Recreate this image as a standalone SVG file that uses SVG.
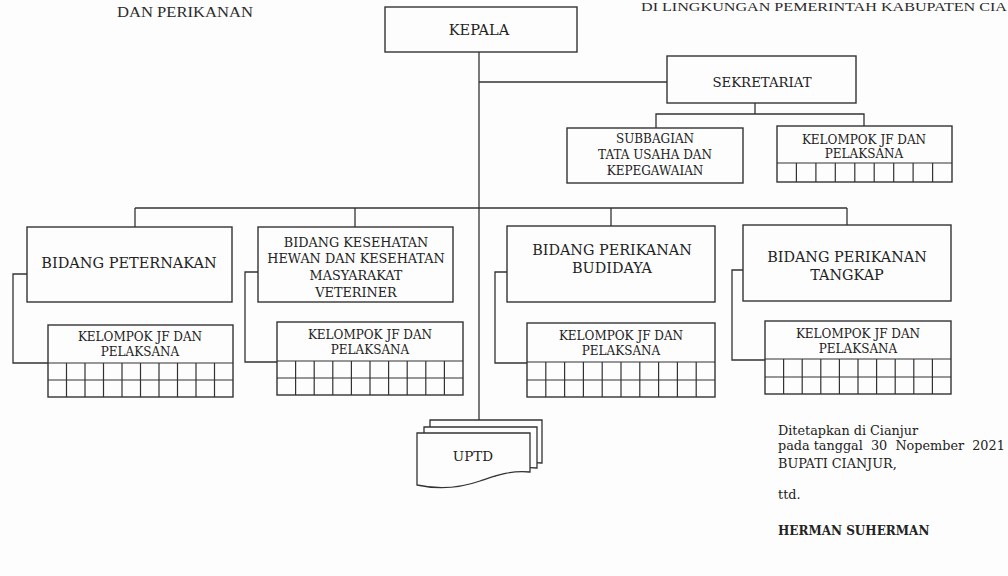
<svg xmlns="http://www.w3.org/2000/svg" width="1008" height="576" viewBox="0 0 1008 576">
<style>
.bx{fill:none;stroke:#333;stroke-width:1.4}
.ln{fill:none;stroke:#333;stroke-width:1.3}
.gr{fill:none;stroke:#333;stroke-width:1.2}
.t{font-family:"DejaVu Serif","Liberation Serif",serif;fill:#222;text-anchor:middle}
.k{font-size:12px}
.s{font-family:"DejaVu Serif","Liberation Serif",serif;fill:#222;font-size:12.8px}
.h{font-family:"Liberation Serif","DejaVu Serif",serif;fill:#2a2a2a}
</style>
<rect width="1008" height="576" fill="#fdfdfd"/>
<text class="h" x="117" y="17" font-size="14" textLength="136" lengthAdjust="spacingAndGlyphs">DAN PERIKANAN</text>
<text class="h" x="641" y="11" font-size="12" textLength="366" lengthAdjust="spacingAndGlyphs">DI LINGKUNGAN PEMERINTAH KABUPATEN CIA</text>

<g id="connectors">
<line class="ln" x1="479" y1="52" x2="479" y2="420"/>
<line class="ln" x1="479" y1="82" x2="667" y2="82"/>
<line class="ln" x1="755" y1="103" x2="755" y2="114"/>
<polyline class="ln" points="656,128 656,114 864,114 864,126"/>
<line class="ln" x1="135" y1="208" x2="847" y2="208"/>
<line class="ln" x1="135" y1="208" x2="135" y2="227"/>
<line class="ln" x1="355" y1="208" x2="355" y2="227"/>
<line class="ln" x1="611" y1="208" x2="611" y2="226"/>
<line class="ln" x1="847" y1="208" x2="847" y2="225"/>
<polyline class="ln" points="27,274 13,274 13,363 48,363"/>
<polyline class="ln" points="258,272 245,272 245,362 277,362"/>
<polyline class="ln" points="507,272 495,272 495,363 527,363"/>
<polyline class="ln" points="743,270 732,270 732,360 765,360"/>
</g>

<g id="kepala">
<rect class="bx" x="385" y="7" width="192" height="45"/>
<text class="t" x="479" y="35" font-size="14.5">KEPALA</text>
</g>

<g id="sekretariat">
<rect class="bx" x="667" y="56" width="189" height="47"/>
<text class="t" x="762" y="87" font-size="13.3">SEKRETARIAT</text>
</g>

<g id="subbagian">
<rect class="bx" x="567" y="128" width="176" height="55"/>
<text class="t" x="655" y="143" font-size="12">SUBBAGIAN</text>
<text class="t" x="655" y="159" font-size="12">TATA USAHA DAN</text>
<text class="t" x="655" y="175" font-size="12">KEPEGAWAIAN</text>
</g>

<g id="kelompok-sekretariat">
<rect class="bx" x="777" y="126" width="175" height="56"/>
<line class="gr" x1="777" y1="163" x2="952" y2="163"/>
<path class="gr" d="M796.4,163V182M815.9,163V182M835.3,163V182M854.8,163V182M874.2,163V182M893.7,163V182M913.1,163V182M932.6,163V182"/>
<text class="t k" x="864" y="144">KELOMPOK JF DAN</text>
<text class="t k" x="864" y="158">PELAKSANA</text>
</g>

<g id="bidang-peternakan">
<rect class="bx" x="27" y="227" width="205" height="75"/>
<text class="t" x="129" y="268" font-size="14.5">BIDANG PETERNAKAN</text>
</g>

<g id="bidang-kesehatan-hewan">
<rect class="bx" x="258" y="227" width="195" height="75"/>
<text class="t" x="356" y="247" font-size="12.8">BIDANG KESEHATAN</text>
<text class="t" x="356" y="263" font-size="12.8">HEWAN DAN KESEHATAN</text>
<text class="t" x="356" y="280" font-size="12.8">MASYARAKAT</text>
<text class="t" x="356" y="297" font-size="12.8">VETERINER</text>
</g>

<g id="bidang-perikanan-budidaya">
<rect class="bx" x="507" y="226" width="208" height="76"/>
<text class="t" x="612" y="255" font-size="14.4">BIDANG PERIKANAN</text>
<text class="t" x="612" y="273" font-size="14.4">BUDIDAYA</text>
</g>

<g id="bidang-perikanan-tangkap">
<rect class="bx" x="743" y="225" width="208" height="76"/>
<text class="t" x="847" y="262" font-size="14.4">BIDANG PERIKANAN</text>
<text class="t" x="847" y="280" font-size="14.4">TANGKAP</text>
</g>

<g id="kelompok-1">
<rect class="bx" x="48" y="325" width="185" height="72"/>
<path class="gr" d="M48,363H233M48,380H233M66.5,363V397M85,363V397M103.5,363V397M122,363V397M140.5,363V397M159,363V397M177.5,363V397M196,363V397M214.5,363V397"/>
<text class="t k" x="140" y="341">KELOMPOK JF DAN</text>
<text class="t k" x="140" y="356">PELAKSANA</text>
</g>

<g id="kelompok-2">
<rect class="bx" x="277" y="322" width="186" height="73"/>
<path class="gr" d="M277,361H463M277,378H463M295.6,361V395M314.2,361V395M332.8,361V395M351.4,361V395M370,361V395M388.6,361V395M407.2,361V395M425.8,361V395M444.4,361V395"/>
<text class="t k" x="370" y="339">KELOMPOK JF DAN</text>
<text class="t k" x="370" y="354">PELAKSANA</text>
</g>

<g id="kelompok-3">
<rect class="bx" x="527" y="323" width="188" height="74"/>
<path class="gr" d="M527,362H715M527,380H715M545.8,362V397M564.6,362V397M583.4,362V397M602.2,362V397M621,362V397M639.8,362V397M658.6,362V397M677.4,362V397M696.2,362V397"/>
<text class="t k" x="621" y="340">KELOMPOK JF DAN</text>
<text class="t k" x="621" y="355">PELAKSANA</text>
</g>

<g id="kelompok-4">
<rect class="bx" x="765" y="321" width="186" height="73"/>
<path class="gr" d="M765,359H951M765,377H951M783.6,359V394M802.2,359V394M820.8,359V394M839.4,359V394M858,359V394M876.6,359V394M895.2,359V394M913.8,359V394M932.4,359V394"/>
<text class="t k" x="858" y="338">KELOMPOK JF DAN</text>
<text class="t k" x="858" y="353">PELAKSANA</text>
</g>

<g id="uptd">
<path d="M430,420H542V463C525,461 512,466 500,470L430,470Z" fill="#fdfdfd" stroke="#333" stroke-width="1.3"/>
<path d="M424,427H537V468C520,466 507,471 495,476L424,476Z" fill="#fdfdfd" stroke="#333" stroke-width="1.3"/>
<path d="M417,433H530V472C510,470 495,476 480,481C460,488 440,490 417,485Z" fill="#fdfdfd" stroke="#333" stroke-width="1.3"/>
<text class="t" x="473" y="461" font-size="13.5">UPTD</text>
</g>

<g id="signature">
<text class="s" x="778" y="435">Ditetapkan di Cianjur</text>
<text class="s" x="778" y="450" xml:space="preserve">pada tanggal  30  Nopember  2021</text>
<text class="s" x="778" y="468">BUPATI CIANJUR,</text>
<text class="s" x="778" y="499">ttd.</text>
<text class="s" x="778" y="535" font-size="12" font-weight="bold" style="font-size:12px">HERMAN SUHERMAN</text>
</g>
</svg>
